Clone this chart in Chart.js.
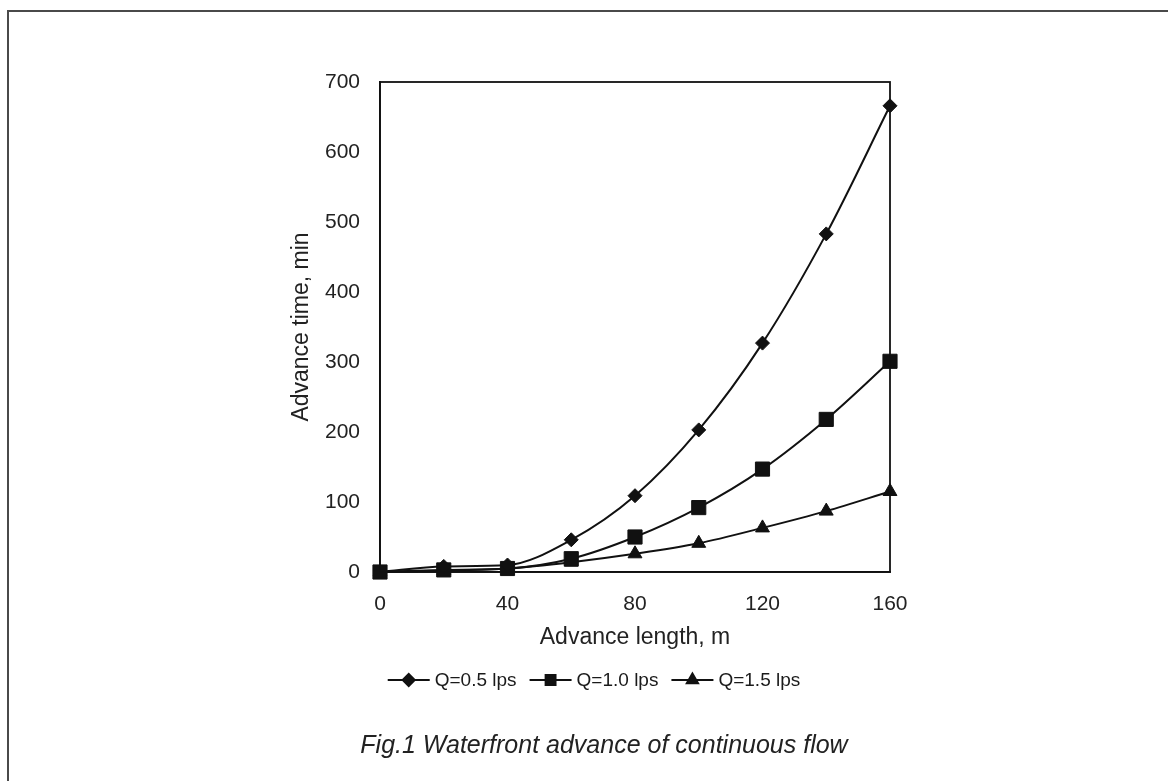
<!DOCTYPE html>
<html>
<head>
<meta charset="utf-8">
<script src="https://cdn.jsdelivr.net/npm/chart.js@4"></script>
<style>
  html, body { margin: 0; padding: 0; background: #fff; }
  #wrap { position: relative; width: 1168px; height: 781px; }
</style>
</head>
<body>
<div id="wrap"><canvas id="advance" width="1168" height="781"></canvas></div>
<script>
// advance length (m) and advance time (min)
var lengths = [0, 20, 40, 60, 80, 100, 120, 140, 160];
var q05 = [0, 8, 10, 46, 109, 203, 327, 483, 666];
var q10 = [0, 3, 5, 19, 50, 92, 147, 218, 301];
var q15 = [0, 2, 5, 14, 26, 41, 63, 87, 115];
var seriesNames = ['Q=0.5 lps', 'Q=1.0 lps', 'Q=1.5 lps'];
var xTicks = [0, 40, 80, 120, 160];
var yTicks = [0, 100, 200, 300, 400, 500, 600, 700];
var caption = 'Fig.1 Waterfront advance of continuous flow';

var ink = '#111';
var fontFamily = '"Liberation Sans", Arial, sans-serif';

function pts(ys) {
    return lengths.map(function (x, i) { return { x: x, y: ys[i] }; });
}

function series(label, ys, style, r, legendR) {
    return {
        label: label,
        data: pts(ys),
        borderColor: ink,
        backgroundColor: ink,
        borderWidth: 2,
        pointStyle: style,
        pointRadius: r,
        pointHoverRadius: r,
        pointBorderWidth: 1,
        legendRadius: legendR,
        cubicInterpolationMode: 'monotone',
        clip: false,
        fill: false
    };
}

// outer frame, plot box, legend and caption
var decorations = {
    id: 'decorations',
    beforeDraw: function (chart) {
        var c = chart.ctx;
        c.save();
        c.fillStyle = '#fff';
        c.fillRect(0, 0, chart.width, chart.height);
        c.strokeStyle = '#4a4a4a';
        c.lineWidth = 2;
        c.beginPath();
        c.moveTo(8, chart.height);
        c.lineTo(8, 11);
        c.lineTo(chart.width, 11);
        c.stroke();
        c.restore();
    },
    afterDraw: function (chart) {
        var c = chart.ctx;
        var a = chart.chartArea;
        c.save();
        c.strokeStyle = ink;
        c.lineWidth = 1.8;
        c.strokeRect(a.left, a.top, a.right - a.left, a.bottom - a.top);

        // legend: line + marker + text, centred
        c.font = '19px ' + fontFamily;
        c.fillStyle = '#1a1a1a';
        c.textBaseline = 'middle';
        var lineLen = 42, gap = 5, spacing = 13;
        var ds = chart.data.datasets;
        var widths = ds.map(function (d) { return lineLen + gap + c.measureText(d.label).width; });
        var total = widths.reduce(function (s, w) { return s + w; }, 0) + spacing * (ds.length - 1);
        var x = 594 - total / 2, y = 680;
        ds.forEach(function (d, i) {
            c.strokeStyle = ink;
            c.fillStyle = ink;
            c.lineWidth = 2;
            c.beginPath();
            c.moveTo(x, y);
            c.lineTo(x + lineLen, y);
            c.stroke();
            Chart.helpers.drawPoint(c, { pointStyle: d.pointStyle, radius: d.legendRadius, borderWidth: 1 }, x + lineLen / 2, y);
            c.fill();
            c.fillStyle = '#1a1a1a';
            c.fillText(d.label, x + lineLen + gap, y + 1);
            x += widths[i] + spacing;
        });

        // caption
        c.font = 'italic 25px ' + fontFamily;
        c.textAlign = 'center';
        c.textBaseline = 'alphabetic';
        c.fillStyle = '#222';
        c.fillText(caption, 604, 753);
        c.restore();
    }
};

var ctx = document.getElementById('advance').getContext('2d');
var advanceChart = new Chart(ctx, {
    type: 'line',
    data: {
        datasets: [
            series(seriesNames[0], q05, 'rectRot', 7, 6),
            series(seriesNames[1], q10, 'rect', 10, 7),
            series(seriesNames[2], q15, 'triangle', 8, 6.5)
        ]
    },
    options: {
        responsive: false,
        devicePixelRatio: 1,
        animation: false,
        layout: { padding: { left: 288, top: 82, right: 278, bottom: 130 } },
        plugins: {
            legend: { display: false },
            tooltip: { enabled: false }
        },
        scales: {
            x: {
                type: 'linear',
                min: 0,
                max: 160,
                afterBuildTicks: function (scale) {
                    scale.ticks = xTicks.map(function (v) { return { value: v }; });
                },
                afterFit: function (scale) { scale.height = 79; },
                grid: { display: false, drawTicks: false },
                border: { display: true, color: ink, width: 1.8 },
                ticks: {
                    color: '#222',
                    padding: 20,
                    maxRotation: 0,
                    font: { family: fontFamily, size: 21 }
                },
                title: {
                    display: true,
                    text: 'Advance length, m',
                    color: '#222',
                    padding: 0,
                    font: { family: fontFamily, size: 23 }
                }
            },
            y: {
                type: 'linear',
                min: 0,
                max: 700,
                afterBuildTicks: function (scale) {
                    scale.ticks = yTicks.map(function (v) { return { value: v }; });
                },
                afterFit: function (scale) { scale.width = 92; },
                grid: { display: false, drawTicks: false },
                border: { display: true, color: ink, width: 1.8 },
                ticks: {
                    color: '#222',
                    padding: 20,
                    font: { family: fontFamily, size: 21 }
                },
                title: {
                    display: true,
                    text: 'Advance time, min',
                    color: '#222',
                    padding: 0,
                    font: { family: fontFamily, size: 23 }
                }
            }
        }
    },
    plugins: [decorations]
});
</script>
</body>
</html>
